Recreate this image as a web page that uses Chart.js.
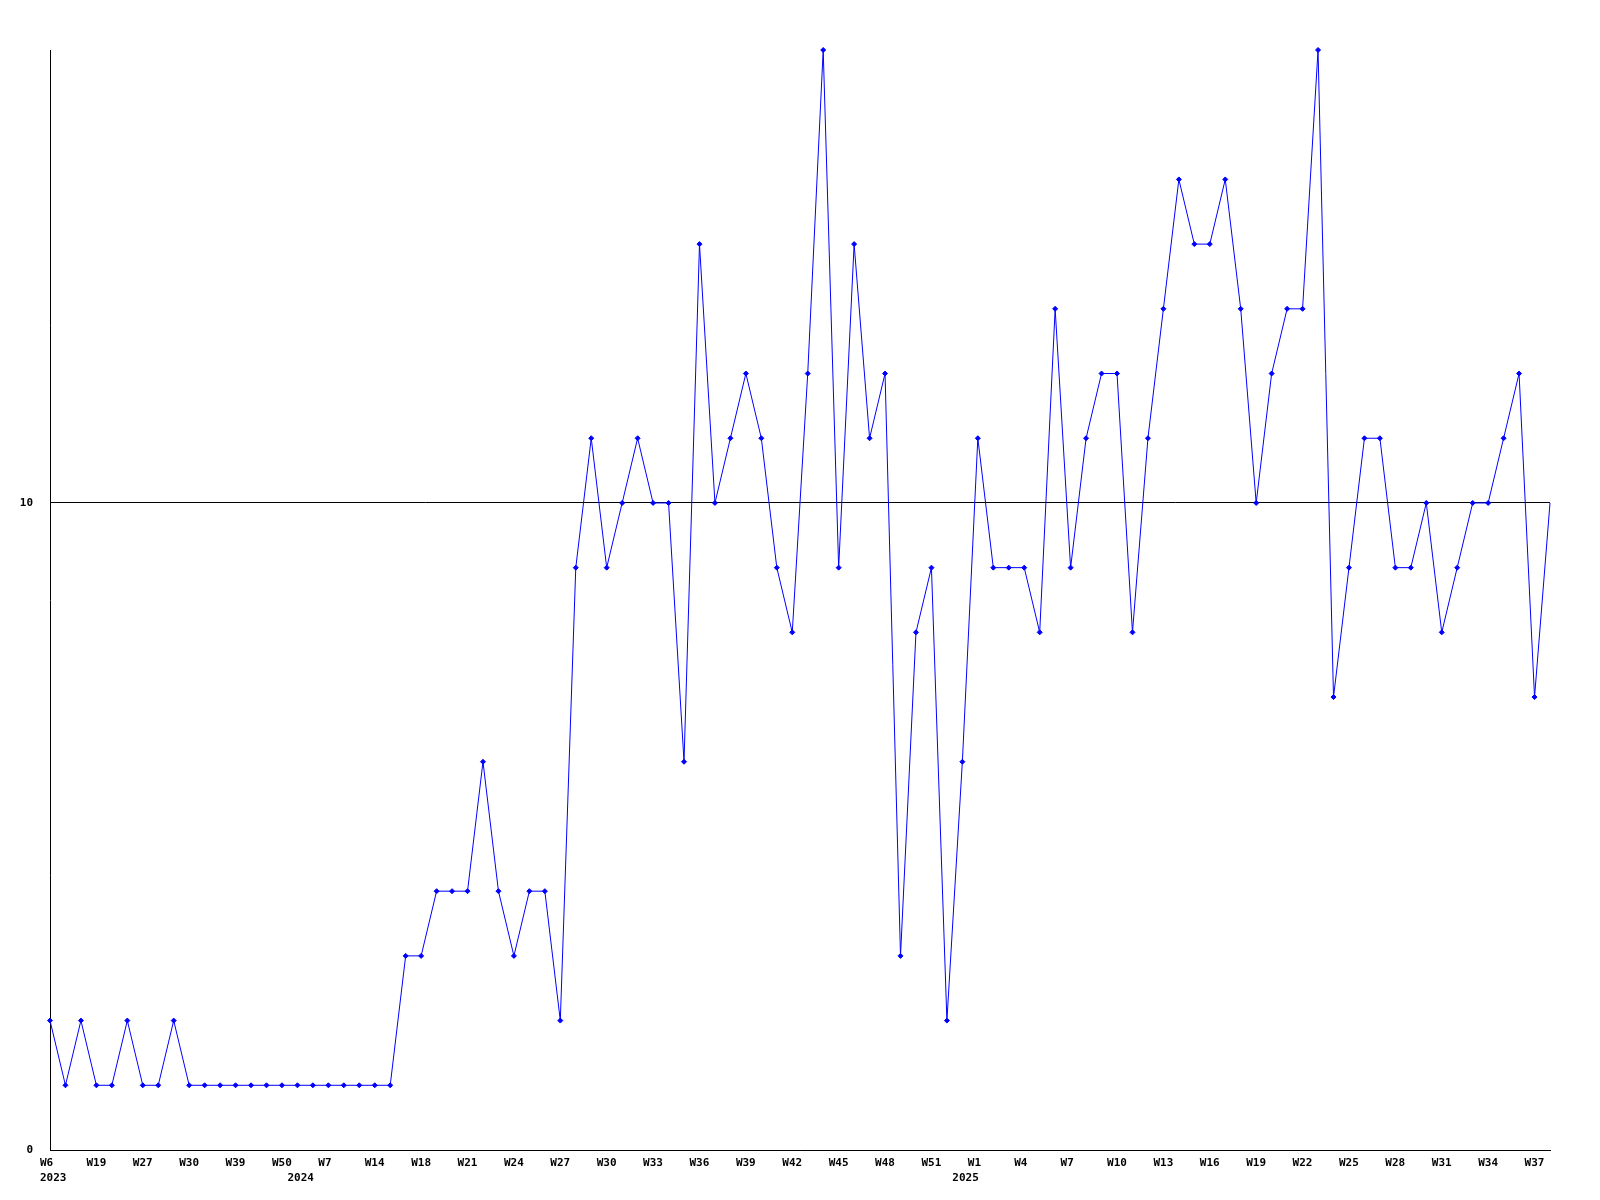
<!DOCTYPE html>
<html>
<head>
<meta charset="utf-8">
<script src="https://cdn.jsdelivr.net/npm/chart.js@4"></script>
<style>
  body { margin: 0; background: #fff; }
  #wrap { width: 1600px; height: 1200px; }
</style>
</head>
<body>
<div id="wrap"><canvas id="weekChart"></canvas></div>
<script>
// one point per week that has data
const weeks = [
    'W6', 'W10', 'W14', 'W19', 'W22', 'W24', 'W27', 'W28', 'W29', 'W30',
    'W33', 'W36', 'W39', 'W43', 'W46', 'W50',
    'W1', 'W4', 'W7', 'W9', 'W12', 'W14', 'W16', 'W17', 'W18', 'W19',
    'W20', 'W21', 'W22', 'W23', 'W24', 'W25', 'W26', 'W27', 'W28', 'W29',
    'W30', 'W31', 'W32', 'W33', 'W34', 'W35', 'W36', 'W37', 'W38', 'W39',
    'W40', 'W41', 'W42', 'W43', 'W44', 'W45', 'W46', 'W47', 'W48', 'W49',
    'W50', 'W51', 'W52',
    'W0', 'W1', 'W2', 'W3', 'W4', 'W5', 'W6', 'W7', 'W8', 'W9', 'W10',
    'W11', 'W12', 'W13', 'W14', 'W15', 'W16', 'W17', 'W18', 'W19', 'W20',
    'W21', 'W22', 'W23', 'W24', 'W25', 'W26', 'W27', 'W28', 'W29', 'W30',
    'W31', 'W32', 'W33', 'W34', 'W35', 'W36', 'W37', 'W38'
];

// year shown under the first week of that year
const yearStarts = { 0: '2023', 16: '2024', 59: '2025' };

const counts = [
    2, 1, 2, 1, 1, 2, 1, 1, 2, 1,
    1, 1, 1, 1, 1, 1, 1, 1, 1, 1,
    1, 1, 1, 3, 3, 4, 4, 4, 6, 4,
    3, 4, 4, 2, 9, 11, 9, 10, 11, 10,
    10, 6, 14, 10, 11, 12, 11, 9, 8, 12,
    17, 9, 14, 11, 12, 3, 8, 9, 2, 6,
    11, 9, 9, 9, 8, 13, 9, 11, 12, 12,
    8, 11, 13, 15, 14, 14, 15, 13, 10, 12,
    13, 13, 17, 7, 9, 11, 11, 9, 9, 10,
    8, 9, 10, 10, 11, 12, 7, 10
];

const yTicks = [0, 10];
const labelEvery = 3;

const tickFont = { family: 'DejaVu Sans Mono', weight: 'bold', size: 11, lineHeight: '15px' };

new Chart(document.getElementById('weekChart'), {
    type: 'line',
    data: {
        labels: weeks,
        datasets: [{
            data: counts,
            borderColor: '#0000ff',
            backgroundColor: '#0000ff',
            borderWidth: 1,
            tension: 0,
            pointStyle: 'rectRot',
            pointRadius: (ctx) => ctx.dataIndex === counts.length - 1 ? 0 : 2.5,
            pointBorderWidth: 1,
            clip: false
        }]
    },
    options: {
        responsive: true,
        maintainAspectRatio: false,
        animation: false,
        events: [],
        layout: { padding: { top: 50, right: 50, left: 0, bottom: 0 } },
        plugins: {
            legend: { display: false },
            tooltip: { enabled: false }
        },
        scales: {
            x: {
                offset: false,
                grid: { display: false, drawTicks: false },
                border: { display: true, color: '#000', width: 1 },
                ticks: {
                    autoSkip: false,
                    maxRotation: 0,
                    minRotation: 0,
                    align: 'start',
                    labelOffset: -10,
                    padding: 6,
                    color: '#000',
                    font: tickFont,
                    callback: function (value, i) {
                        const week = i % labelEvery === 0 ? weeks[i] : '';
                        if (yearStarts[i]) return [week, yearStarts[i]];
                        return week;
                    }
                },
                afterFit: (scale) => { scale.height = 50; }
            },
            y: {
                min: 0,
                max: 17,
                grid: { color: '#000', lineWidth: 1, drawTicks: false },
                border: { display: true, color: '#000', width: 1 },
                ticks: {
                    padding: 17,
                    color: '#000',
                    font: tickFont
                },
                afterBuildTicks: (scale) => {
                    scale.ticks = yTicks.map(v => ({ value: v }));
                },
                afterFit: (scale) => { scale.width = 50; }
            }
        }
    }
});
</script>
</body>
</html>
